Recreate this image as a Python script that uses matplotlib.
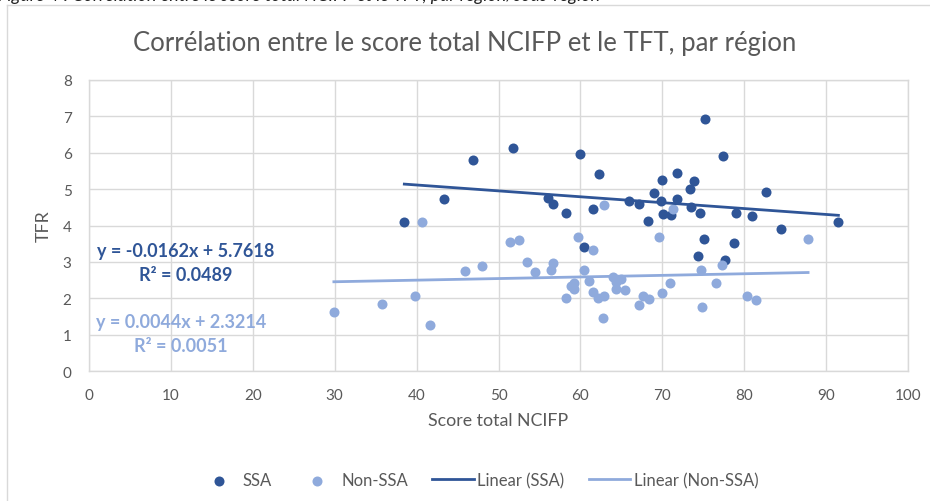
import numpy as np
import matplotlib.pyplot as plt

plt.rcParams['font.family'] = ['Lato', 'DejaVu Sans']

# Data
ssa_x = [38.5, 43.3, 46.9, 51.8, 56.0, 56.6, 58.2, 60.0, 60.4, 61.5, 62.3, 65.9,
         67.2, 68.3, 69.0, 69.9, 70.0, 70.1, 71.1, 71.8, 71.8, 73.4, 73.5, 73.9,
         74.3, 74.6, 75.1, 75.2, 77.4, 77.7, 78.7, 79.0, 80.9, 82.7, 84.5, 91.5]
ssa_y = [4.10, 4.74, 5.80, 6.12, 4.76, 4.58, 4.35, 5.96, 3.42, 4.46, 5.42, 4.68,
         4.60, 4.12, 4.88, 4.66, 5.25, 4.32, 4.29, 4.73, 5.44, 5.00, 4.51, 5.22,
         3.17, 4.35, 3.63, 6.94, 5.92, 3.04, 3.53, 4.35, 4.26, 4.91, 3.90, 4.10]

non_ssa_x = [29.9, 35.8, 39.8, 40.6, 41.6, 45.9, 48.0, 51.4, 52.5, 53.5, 54.4, 56.4,
             56.6, 58.3, 58.8, 59.2, 59.2, 59.7, 60.5, 61.0, 61.5, 61.5, 62.2, 62.7,
             62.9, 62.9, 64.0, 64.3, 64.3, 65.0, 65.4, 67.2, 67.6, 68.4, 69.6, 70.0,
             70.9, 71.3, 74.7, 74.8, 76.5, 77.3, 80.3, 81.4, 87.8]
non_ssa_y = [1.63, 1.83, 2.07, 4.10, 1.26, 2.76, 2.90, 3.56, 3.60, 3.00, 2.71, 2.79,
             2.98, 2.02, 2.34, 2.42, 2.26, 3.69, 2.77, 2.48, 3.33, 2.17, 2.01, 1.46,
             2.06, 4.57, 2.59, 2.45, 2.25, 2.54, 2.22, 1.82, 2.05, 1.99, 3.68, 2.15,
             2.43, 4.45, 2.78, 1.76, 2.43, 2.92, 2.06, 1.94, 3.62]

# Trendline coefficients (slope, intercept) and R² shown on chart
ssa_fit = (-0.0162, 5.7618)
non_ssa_fit = (0.0044, 2.3214)
ssa_r2 = 0.0489
non_ssa_r2 = 0.0051

x_ticks = list(range(0, 101, 10))
y_ticks = list(range(0, 9))

dark = '#2F5597'
light = '#8FAADC'
grey = '#595959'
grid = '#D9D9D9'

fig = plt.figure(figsize=(9.3, 5.02), dpi=100)
ax = fig.add_axes([89 / 930, 1 - 372 / 502, (908 - 89) / 930, (372 - 81) / 502])

ax.scatter(ssa_x, ssa_y, s=52, color=dark, zorder=3, label='SSA', linewidths=0)
ax.scatter(non_ssa_x, non_ssa_y, s=52, color=light, zorder=3, label='Non-SSA', linewidths=0)

xs = np.array([min(ssa_x), max(ssa_x)])
ax.plot(xs, ssa_fit[0] * xs + ssa_fit[1], color=dark, lw=2, zorder=4, label='Linear (SSA)')
xn = np.array([min(non_ssa_x), max(non_ssa_x)])
ax.plot(xn, non_ssa_fit[0] * xn + non_ssa_fit[1], color=light, lw=2, zorder=4,
        label='Linear (Non-SSA)')

ax.set_xlim(0, 100)
ax.set_ylim(0, 8)
ax.set_xticks(x_ticks)
ax.set_yticks(y_ticks)
ax.grid(True, color=grid, lw=1, zorder=0)
for s in ax.spines.values():
    s.set_color(grid)
    s.set_linewidth(1)
ax.tick_params(length=0, labelsize=11, colors=grey, pad=12.5)

ax.set_xlabel('Score total NCIFP', fontsize=12.8, color=grey)
ax.xaxis.set_label_coords(0.5, -0.142)
ax.set_ylabel('TFR', fontsize=12.8, color=grey)
ax.yaxis.set_label_coords(-0.045, 0.5)

fig.text(0.5, 1 - 43 / 502, 'Corrélation entre le score total NCIFP et le TFT, par région',
         ha='center', va='center', fontsize=18.5, color=grey)

# trendline equations
fig.text(186 / 930, 1 - 252 / 502, f'y = {ssa_fit[0]}x + {ssa_fit[1]}', ha='center',
         va='center', fontsize=13, fontweight='bold', color=dark)
fig.text(186 / 930, 1 - 276 / 502, f'R² = {ssa_r2}', ha='center',
         va='center', fontsize=13, fontweight='bold', color=dark)
fig.text(181 / 930, 1 - 323 / 502, f'y = {non_ssa_fit[0]}x + {non_ssa_fit[1]}', ha='center',
         va='center', fontsize=13, fontweight='bold', color=light)
fig.text(181 / 930, 1 - 347 / 502, f'R² = {non_ssa_r2}', ha='center',
         va='center', fontsize=13, fontweight='bold', color=light)

# chart area border (runs off the right and bottom edges)
fig.add_artist(plt.Line2D([7 / 930, 7 / 930], [0, 1 - 6 / 502], color=grid, lw=1))
fig.add_artist(plt.Line2D([7 / 930, 1], [1 - 6 / 502, 1 - 6 / 502], color=grid, lw=1))

# caption above the chart, mostly cut off by the top edge
fig.text(-0.002, 1 - 1.5 / 502,
         'Figure 4 : Corrélation entre le score total NCIFP et le TFT, par région/sous-région',
         ha='left', va='baseline', fontsize=13, style='italic', color='#222222')

fig.legend(loc='center', bbox_to_anchor=(478 / 930, 1 - 481 / 502), ncol=4, frameon=False,
           fontsize=12, labelcolor=grey, handlelength=2.5, columnspacing=1.45,
           handletextpad=0.2)

fig.savefig('out.png', dpi=100)
